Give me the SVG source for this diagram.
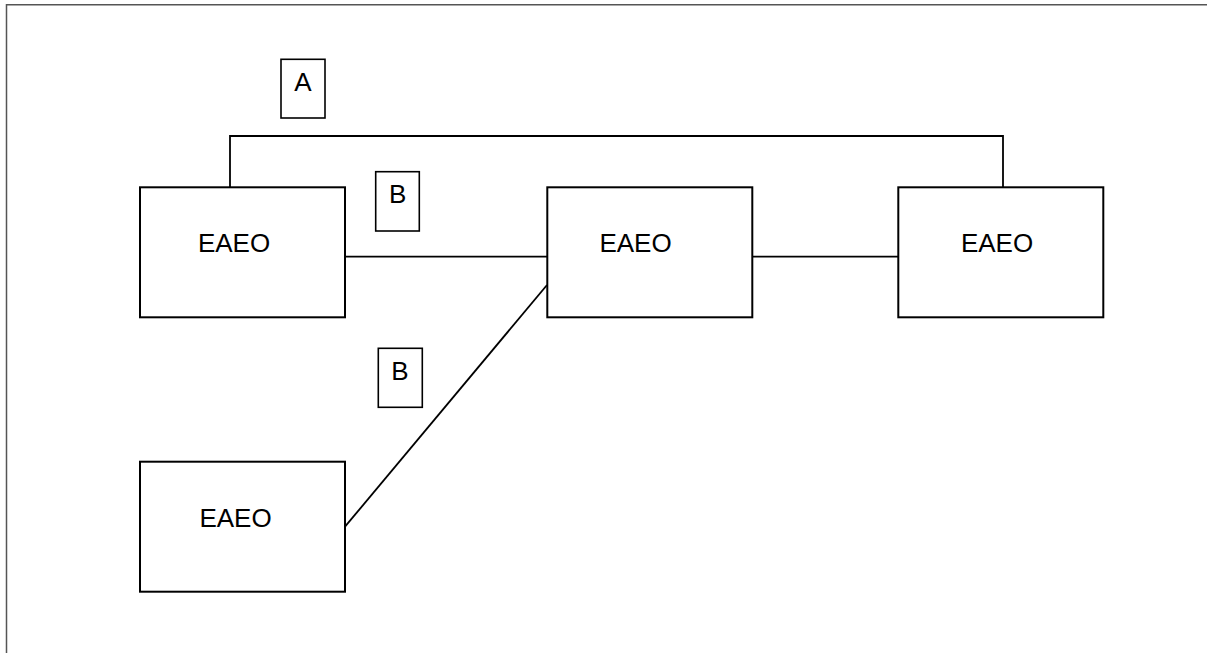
<svg xmlns="http://www.w3.org/2000/svg" width="1207" height="653" viewBox="0 0 1207 653">
<style>
.box{fill:#fff;stroke:#000;stroke-width:2}
.lbl{fill:#fff;stroke:#000;stroke-width:1.6}
.con{fill:none;stroke:#000;stroke-width:1.8}
text{font-family:"Liberation Sans",Arial,sans-serif;font-size:26px;fill:#000;text-anchor:middle}
.t2{font-size:20px}
</style>
<rect x="0" y="0" width="1207" height="653" fill="#fff"/>
<path d="M6.5,660 V4.8 H1210" fill="none" stroke="#555" stroke-width="1.5"/>
<g id="connectors">
<path class="con" d="M230,187 V136 H1003 V187"/>
<path class="con" d="M345,256.7 H547"/>
<path class="con" d="M750,256.7 H898"/>
<path class="con" d="M547,285 L345,526.7"/>
</g>
<g id="n1"><rect class="box" x="140" y="187.3" width="205" height="130"/><text x="234" y="251.7" class="t2" style="font-size:26px">EAEO</text></g>
<g id="n2"><rect class="box" x="547.3" y="187.3" width="205" height="130"/><text x="635.5" y="251.7">EAEO</text></g>
<g id="n3"><rect class="box" x="898.3" y="187.3" width="205" height="130"/><text x="997" y="251.7">EAEO</text></g>
<g id="n4"><rect class="box" x="140" y="461.7" width="205" height="130"/><text x="235.5" y="526.7">EAEO</text></g>
<g id="labelA"><rect class="lbl" x="281" y="59.3" width="44" height="58.7"/><text x="303" y="90.7">A</text></g>
<g id="labelB1"><rect class="lbl" x="375.7" y="171.7" width="43.6" height="59.3"/><text x="397.7" y="203.3">B</text></g>
<g id="labelB2"><rect class="lbl" x="378.3" y="348.3" width="44" height="59"/><text x="400" y="380">B</text></g>
</svg>
